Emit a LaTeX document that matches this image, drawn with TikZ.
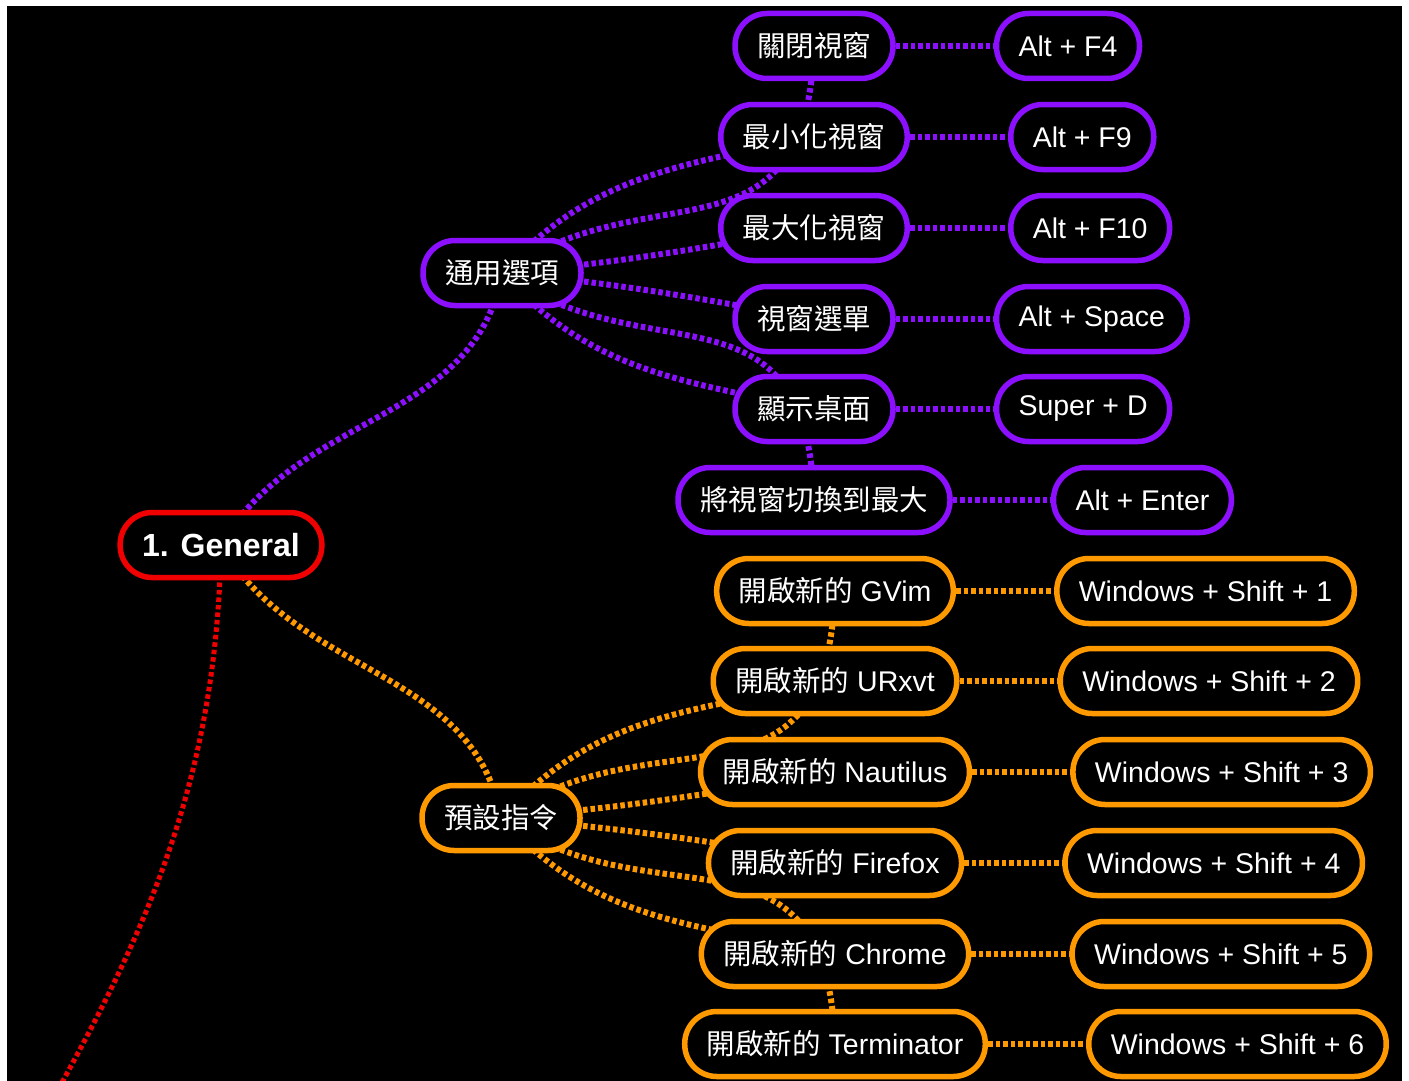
\documentclass[tikz,border=0pt]{standalone}
\usepackage{fontspec}
\setmainfont{Liberation Sans}
\newfontfamily\cjk{Noto Sans CJK TC}
\usetikzlibrary{positioning,backgrounds}
\definecolor{LinkRed}{RGB}{240,0,0}
\definecolor{LinkPurple}{RGB}{140,16,255}
\definecolor{LinkOrange}{RGB}{255,153,0}

\tikzset{
  mapbox/.style={draw,fill=black,text=white,line width=5.5pt,rounded corners=32pt,
    minimum height=65pt,inner xsep=22pt,font=\fontsize{28.5pt}{32pt}\selectfont},
  rootbox/.style={mapbox,draw=LinkRed,font=\fontsize{32pt}{36pt}\selectfont\bfseries},
  purplebox/.style={mapbox,draw=LinkPurple},
  orangebox/.style={mapbox,draw=LinkOrange},
  maplink/.style={line width=6pt,dash pattern=on 4.5pt off 3pt},
  redlink/.style={maplink,draw=LinkRed,line width=5pt},
  purplelink/.style={maplink,draw=LinkPurple},
  orangelink/.style={maplink,draw=LinkOrange}
}

\begin{document}
\begin{tikzpicture}[x=1pt,y=1pt]
\useasboundingbox (0,0) rectangle (1409,-1081);

% root and the two branches
\node[rootbox] (general) at (221,-545) {1. General};
\node[purplebox] (tong) at (502,-273) {\cjk 通用選項};
\node[orangebox] (yushe) at (501,-818) {\cjk 預設指令};

% window shortcuts
\node[purplebox] (closewin) at (814,-46) {\cjk 關閉視窗};
\node[purplebox] (minwin) at (814,-137) {\cjk 最小化視窗};
\node[purplebox] (maxwin) at (814,-228) {\cjk 最大化視窗};
\node[purplebox] (winmenu) at (814,-319) {\cjk 視窗選單};
\node[purplebox] (desktop) at (814,-409) {\cjk 顯示桌面};
\node[purplebox] (fullwin) at (814,-500) {\cjk 將視窗切換到最大};

\node[purplebox,right=98pt of closewin] (kclose) {Alt + F4};
\node[purplebox,right=98pt of minwin] (kmin) {Alt + F9};
\node[purplebox,right=98pt of maxwin] (kmax) {Alt + F10};
\node[purplebox,right=98pt of winmenu] (kmenu) {Alt + Space};
\node[purplebox,right=98pt of desktop] (kdesk) {Super + D};
\node[purplebox,right=98pt of fullwin] (kfull) {Alt + Enter};

% program shortcuts
\node[orangebox] (gvim) at (835,-591) {{\cjk 開啟新的} GVim};
\node[orangebox] (urxvt) at (835,-681) {{\cjk 開啟新的} URxvt};
\node[orangebox] (nautilus) at (835,-772) {{\cjk 開啟新的} Nautilus};
\node[orangebox] (firefox) at (835,-863) {{\cjk 開啟新的} Firefox};
\node[orangebox] (chrome) at (835,-954) {{\cjk 開啟新的} Chrome};
\node[orangebox] (terminator) at (835,-1044) {{\cjk 開啟新的} Terminator};

\node[orangebox,right=98pt of gvim] (kgvim) {Windows + Shift + 1};
\node[orangebox,right=98pt of urxvt] (kurxvt) {Windows + Shift + 2};
\node[orangebox,right=98pt of nautilus] (knautilus) {Windows + Shift + 3};
\node[orangebox,right=98pt of firefox] (kfirefox) {Windows + Shift + 4};
\node[orangebox,right=98pt of chrome] (kchrome) {Windows + Shift + 5};
\node[orangebox,right=98pt of terminator] (kterminator) {Windows + Shift + 6};

\coordinate (home) at (-88,-1350);

\begin{scope}[on background layer]
\fill[black] (7,-6) rectangle (1402,-1081);
\begin{scope}
\clip (7,-6) rectangle (1402,-1081);
\draw[redlink] (general.center) to[out=-91,in=62] (home);
\end{scope}

\draw[purplelink] (general.center) to[out=60,in=-100] (tong.center);
\draw[orangelink] (general.center) to[out=-60,in=100] (yushe.center);

\draw[purplelink] (tong.center) to[out=35,in=-92,out looseness=1.2,in looseness=1.5] (closewin.center);
\draw[purplelink] (tong.center) to[out=48,in=192] (minwin.center);
\draw[purplelink] (tong.center) to[out=5,in=190] (maxwin.center);
\draw[purplelink] (tong.center) to[out=-5,in=170] (winmenu.center);
\draw[purplelink] (tong.center) to[out=-48,in=168] (desktop.center);
\draw[purplelink] (tong.center) to[out=-35,in=92,out looseness=1.2,in looseness=1.5] (fullwin.center);

\draw[orangelink] (yushe.center) to[out=35,in=-92,out looseness=1.2,in looseness=1.5] (gvim.center);
\draw[orangelink] (yushe.center) to[out=48,in=192] (urxvt.center);
\draw[orangelink] (yushe.center) to[out=5,in=190] (nautilus.center);
\draw[orangelink] (yushe.center) to[out=-5,in=170] (firefox.center);
\draw[orangelink] (yushe.center) to[out=-48,in=168] (chrome.center);
\draw[orangelink] (yushe.center) to[out=-35,in=92,out looseness=1.2,in looseness=1.5] (terminator.center);

\draw[purplelink] (closewin) -- (kclose);
\draw[purplelink] (minwin) -- (kmin);
\draw[purplelink] (maxwin) -- (kmax);
\draw[purplelink] (winmenu) -- (kmenu);
\draw[purplelink] (desktop) -- (kdesk);
\draw[purplelink] (fullwin) -- (kfull);

\draw[orangelink] (gvim) -- (kgvim);
\draw[orangelink] (urxvt) -- (kurxvt);
\draw[orangelink] (nautilus) -- (knautilus);
\draw[orangelink] (firefox) -- (kfirefox);
\draw[orangelink] (chrome) -- (kchrome);
\draw[orangelink] (terminator) -- (kterminator);
\end{scope}
\end{tikzpicture}
\end{document}
